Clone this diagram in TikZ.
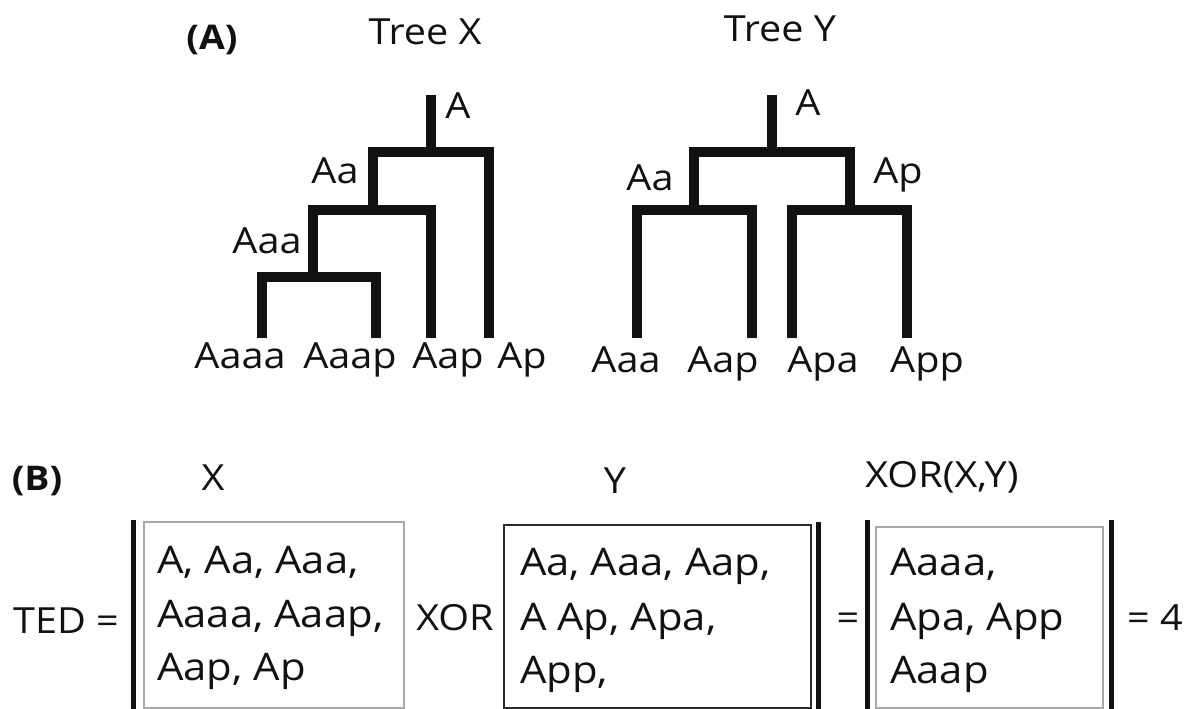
\documentclass[tikz,border=0pt]{standalone}
\usepackage{fontspec}
\setmainfont{Open Sans}[FakeStretch=1.1]
\definecolor{ink}{HTML}{111111}
\definecolor{boxgray}{HTML}{A8A8A8}
\definecolor{boxdark}{HTML}{2A2A2A}
\begin{document}
\begin{tikzpicture}[x=1pt,y=-1pt,
  lab/.style={font=\fontsize{36}{43}\selectfont, text=ink, inner sep=0pt, anchor=base},
  linelab/.style={lab, font=\fontsize{38}{45}\selectfont, anchor=base west},
  head/.style={lab, font=\fontsize{34}{40}\selectfont\bfseries},
  tree/.style={draw=ink, line width=9.5pt, line join=miter, line cap=butt},
  bar/.style={draw=ink, line width=5pt},
  setbox/.style={rectangle, inner sep=0pt, anchor=north west, fill=white}
]
\useasboundingbox (0,0) rectangle (1197,709);

% ---------- (A) tree X ----------
\node[head] (hA) at (212,50) {(A)};
\node[lab] (tX) at (425,45) {Tree X};

\coordinate (xTop)  at (431,95);
\coordinate (xA)    at (431,152);
\coordinate (xAa)   at (373,210);
\coordinate (xAaa)  at (313,277);
\coordinate (xAaaa) at (262,338);
\coordinate (xAaap) at (376,338);
\coordinate (xAap)  at (431,338);
\coordinate (xAp)   at (489,338);

\draw[tree] (xAaaa) |- (xAaa) -| (xAaap);
\draw[tree] (xAaa) |- (xAa) -| (xAap);
\draw[tree] (xAa) |- (xA) -| (xAp);
\draw[tree] (xA) -- (xTop);

\node[lab] (xlA)   at (458,118) {A};
\node[lab] (xlAa)  at (335,183) {Aa};
\node[lab] (xlAaa) at (267,253) {Aaa};
\node[lab] (xl1) at (240,368) {Aaaa};
\node[lab] (xl2) at (350,368) {Aaap};
\node[lab] (xl3) at (448,368) {Aap};
\node[lab] (xl4) at (522,368) {Ap};

% ---------- (A) tree Y ----------
\node[lab] (tY) at (780,42) {Tree Y};

\coordinate (yTop) at (772,95);
\coordinate (yA)   at (772,152);
\coordinate (yAa)  at (694,210);
\coordinate (yAp)  at (850,210);
\coordinate (yAaa) at (637,338);
\coordinate (yAap) at (752,338);
\coordinate (yApa) at (792,338);
\coordinate (yApp) at (907,338);

\draw[tree] (yAaa) |- (yAa) -| (yAap);
\draw[tree] (yApa) |- (yAp) -| (yApp);
\draw[tree] (yAa) |- (yA) -| (yAp);
\draw[tree] (yA) -- (yTop);

\node[lab] (ylA)  at (808,115) {A};
\node[lab] (ylAa) at (650,190) {Aa};
\node[lab] (ylAp) at (898,183) {Ap};
\node[lab] (yl1) at (626,372) {Aaa};
\node[lab] (yl2) at (723,372) {Aap};
\node[lab] (yl3) at (823,372) {Apa};
\node[lab] (yl4) at (927,372) {App};

% ---------- (B) tree edit distance ----------
\node[head] (hB) at (37,490) {(B)};
\node[lab] (cX)   at (213,490) {X};
\node[lab] (cY)   at (615,493) {Y};
\node[lab] (cXOR) at (942,487) {XOR(X,Y)};

\node[lab] (ted) at (66,633) {TED =};

\draw[bar] (133,520) -- (133,709);
\node[setbox, draw=boxgray, line width=2pt, minimum width=260pt, minimum height=186pt] (boxX) at (143,521) {};
\node[linelab] (x1) at (157,573) {A, Aa, Aaa,};
\node[linelab] (x2) at (157,627) {Aaaa, Aaap,};
\node[linelab] (x3) at (157,680) {Aap, Ap};

\node[lab] (op) at (455,630) {XOR};

\node[setbox, draw=boxdark, line width=1.5pt, minimum width=307pt, minimum height=183pt] (boxY) at (503,524) {};
\node[linelab] (y1) at (520,575) {Aa, Aaa, Aap,};
\node[linelab] (y2) at (520,630) {A Ap, Apa,};
\node[linelab] (y3) at (520,683) {App,};
\draw[bar] (818,522) -- (818,709);

\node[lab] (eq1) at (848,630) {=};

\draw[bar] (867,520) -- (867,709);
\node[setbox, draw=boxgray, line width=2pt, minimum width=227pt, minimum height=181pt] (boxR) at (875,526) {};
\node[linelab] (r1) at (890,575) {Aaaa,};
\node[linelab] (r2) at (890,630) {Apa, App};
\node[linelab] (r3) at (890,683) {Aaap};
\draw[bar] (1111,520) -- (1111,709);

\node[lab] (res) at (1155,630) {= 4};
\end{tikzpicture}
\end{document}
